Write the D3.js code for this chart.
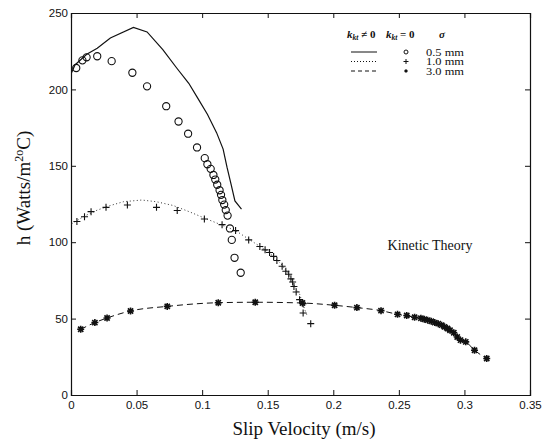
<!DOCTYPE html>
<html>
<head>
<meta charset="utf-8">
<script src="https://cdn.jsdelivr.net/npm/d3@7"></script>
<style>
  body { margin: 0; background: #fff; }
  text { fill: #111; }
</style>
</head>
<body>
<div id="chart"></div>
<script>
// kinetic theory lines (k_kt != 0)
var line05 = [[0.0005,211],[0.003,216],[0.012,223],[0.020,227],[0.030,233.7],[0.0476,240.6],[0.058,237.6],[0.070,226],[0.0806,214],[0.0898,204],[0.0964,194.6],[0.104,183.7],[0.111,171.7],[0.116,160.9],[0.119,148.9],[0.1223,137],[0.125,127],[0.130,121.7]];
var line10 = [[0.0005,112],[0.010,117],[0.020,121],[0.030,124],[0.040,126.5],[0.054,127.6],[0.065,126.5],[0.078,124],[0.090,120],[0.104,115],[0.1255,107.6],[0.140,99.5],[0.150,94],[0.160,86],[0.166,79],[0.170,72],[0.1743,66],[0.178,56.5],[0.180,52]];
var line30 = [[0.0074,43],[0.0182,47.4],[0.0275,50.4],[0.0454,55],[0.0734,58],[0.1123,60.4],[0.1405,60.7],[0.1765,60.2],[0.201,58.7],[0.218,57.2],[0.2364,55.2],[0.249,52.8],[0.262,50.9],[0.272,49],[0.280,46.7],[0.287,43.5],[0.2919,40.7],[0.297,35.9],[0.301,34.8],[0.3077,29.3],[0.317,23.9]];

// k_kt = 0 points
var circles05 = [[0.004,214],[0.0087,219],[0.0119,221],[0.020,221.7],[0.031,218.5],[0.0468,210.9],[0.058,202],[0.0726,189],[0.082,179],[0.0893,171],[0.0961,162],[0.102,155],[0.104,151],[0.1065,148],[0.1086,144],[0.110,141],[0.1115,137.6],[0.1133,134],[0.1144,131],[0.1154,127.6],[0.1168,124.6],[0.118,121],[0.1194,117.4],[0.1212,109],[0.1226,101.5],[0.1247,89.8],[0.1294,80]];
var plus10 = [[0.0045,113.5],[0.0103,116.7],[0.0153,120],[0.0267,122.8],[0.043,124.3],[0.0652,122.8],[0.081,120.7],[0.1017,115.2],[0.1152,111.5],[0.1255,107.6],[0.1355,101.5],[0.144,97.2],[0.148,95],[0.1514,93.3],[0.1545,90.7],[0.157,88],[0.161,84.3],[0.1638,81],[0.166,79],[0.1677,76],[0.169,74],[0.170,71],[0.1717,67.4],[0.1743,62.4],[0.177,59.8],[0.177,53.7],[0.1828,46.7]];
var stars30 = [[0.0074,43],[0.0182,47.4],[0.0275,50.4],[0.0454,55],[0.0734,58],[0.1123,60.4],[0.1405,60.7],[0.1765,60.2],[0.201,58.7],[0.218,57.2],[0.2364,55.2],[0.249,52.8],[0.256,52],[0.262,50.9],[0.2668,50.2],[0.2694,49.6],[0.272,49],[0.2747,48.3],[0.2774,47.4],[0.280,46.7],[0.2826,45.7],[0.2848,44.6],[0.287,43.5],[0.289,42.4],[0.2919,40.7],[0.2945,38],[0.297,35.9],[0.301,34.8],[0.3077,29.3],[0.317,23.9]];

var xTicks = [0, 0.05, 0.1, 0.15, 0.2, 0.25, 0.3, 0.35];
var yTicks = [0, 50, 100, 150, 200, 250];
var sigmaLabels = ["0.5 mm", "1.0 mm", "3.0 mm"];

var svgWidth = 544;
var svgHeight = 442;
var margin = { top: 13, right: 14, bottom: 47, left: 71 };
var width = svgWidth - margin.left - margin.right;
var height = svgHeight - margin.top - margin.bottom;

var svg = d3.select("#chart").append("svg")
    .attr("width", svgWidth)
    .attr("height", svgHeight);

var g = svg.append("g")
    .attr("transform", "translate(" + margin.left + "," + margin.top + ")");

var x = d3.scaleLinear().domain([0, 0.35]).range([0, width]);
var y = d3.scaleLinear().domain([0, 250]).range([height, 0]);

var fmt = function (d) { return d === 0 ? "0" : String(d); };

// axes with inward ticks, box on all sides
g.append("g").attr("transform", "translate(0," + height + ")")
    .call(d3.axisBottom(x).tickValues(xTicks).tickSize(-5).tickPadding(6).tickFormat(fmt));
g.append("g")
    .call(d3.axisLeft(y).tickValues(yTicks).tickSize(-5).tickPadding(3).tickFormat(fmt));
g.append("g")
    .call(d3.axisTop(x).tickValues(xTicks).tickSize(-5).tickFormat(""));
g.append("g").attr("transform", "translate(" + width + ",0)")
    .call(d3.axisRight(y).tickValues(yTicks).tickSize(-5).tickFormat(""));

g.selectAll(".domain").attr("stroke", "#111").attr("stroke-width", 1.2);
g.selectAll(".tick line").attr("stroke", "#111");
g.selectAll(".tick text").attr("font-family", "Liberation Sans, Arial, sans-serif")
    .attr("font-size", 11.5).attr("fill", "#111");

var line = d3.line()
    .x(function (d) { return x(d[0]); })
    .y(function (d) { return y(d[1]); });

g.append("path").datum(line05).attr("d", line)
    .attr("fill", "none").attr("stroke", "#111").attr("stroke-width", 1.2);
g.append("path").datum(line10).attr("d", line)
    .attr("fill", "none").attr("stroke", "#333").attr("stroke-width", 1).attr("stroke-dasharray", "1,2.5");
g.append("path").datum(line30).attr("d", line.curve(d3.curveMonotoneX))
    .attr("fill", "none").attr("stroke", "#111").attr("stroke-width", 1).attr("stroke-dasharray", "6,4");

g.selectAll(".circ").data(circles05).enter().append("circle")
    .attr("cx", function (d) { return x(d[0]); })
    .attr("cy", function (d) { return y(d[1]); })
    .attr("r", 3.6)
    .attr("fill", "none").attr("stroke", "#111").attr("stroke-width", 1.1);

function plusPath(s) {
    return "M" + (-s) + ",0H" + s + "M0," + (-s) + "V" + s;
}
function starPath(s) {
    var k = s * 0.75;
    return plusPath(s) + "M" + (-k) + "," + (-k) + "L" + k + "," + k + "M" + (-k) + "," + k + "L" + k + "," + (-k);
}

g.selectAll(".plus").data(plus10).enter().append("path")
    .attr("transform", function (d) { return "translate(" + x(d[0]) + "," + y(d[1]) + ")"; })
    .attr("d", plusPath(3.5))
    .attr("stroke", "#111").attr("stroke-width", 1.1);

g.selectAll(".star").data(stars30).enter().append("path")
    .attr("transform", function (d) { return "translate(" + x(d[0]) + "," + y(d[1]) + ")"; })
    .attr("d", starPath(3.5))
    .attr("stroke", "#111").attr("stroke-width", 1.6);

// legend
var leg = svg.append("g").attr("font-family", "Liberation Serif, Times New Roman, serif").attr("font-size", 10);
var hdr = leg.append("text").attr("x", 347).attr("y", 38).attr("font-size", 11).attr("font-weight", "bold");
hdr.append("tspan").attr("font-style", "italic").text("k");
hdr.append("tspan").attr("font-style", "italic").attr("font-size", 7.5).attr("dy", 2).text("kt");
hdr.append("tspan").attr("dy", -2).text(" \u2260 0");
var hdr2 = leg.append("text").attr("x", 386).attr("y", 38).attr("font-size", 11).attr("font-weight", "bold");
hdr2.append("tspan").attr("font-style", "italic").text("k");
hdr2.append("tspan").attr("font-style", "italic").attr("font-size", 7.5).attr("dy", 2).text("kt");
hdr2.append("tspan").attr("dy", -2).text(" = 0");
leg.append("text").attr("x", 439).attr("y", 38).attr("font-style", "italic").attr("font-weight", "bold").attr("font-size", 11).text("\u03C3");

var dashes = [null, "1,2", "4,3"];
var rowY = [52, 61.5, 71];
sigmaLabels.forEach(function (lab, i) {
    var yy = rowY[i];
    leg.append("line").attr("x1", 351).attr("x2", 377).attr("y1", yy).attr("y2", yy)
        .attr("stroke", "#111").attr("stroke-width", 1).attr("stroke-dasharray", dashes[i]);
    leg.append("text").attr("x", 426).attr("y", yy + 3.5)
        .attr("textLength", 38).attr("lengthAdjust", "spacingAndGlyphs").text(lab);
});
leg.append("circle").attr("cx", 406).attr("cy", rowY[0]).attr("r", 2).attr("fill", "none").attr("stroke", "#111");
leg.append("path").attr("transform", "translate(406," + rowY[1] + ")").attr("d", plusPath(2.5)).attr("stroke", "#111");
leg.append("path").attr("transform", "translate(406," + rowY[2] + ")").attr("d", starPath(1.6)).attr("stroke", "#111").attr("stroke-width", 1.2);

svg.append("text").attr("x", 430).attr("y", 250).attr("text-anchor", "middle")
    .attr("font-family", "Liberation Serif, Times New Roman, serif").attr("font-size", 14)
    .text("Kinetic Theory");

// axis titles
svg.append("text").attr("x", 304).attr("y", 435).attr("text-anchor", "middle")
    .attr("font-family", "Liberation Serif, Times New Roman, serif").attr("font-size", 19)
    .text("Slip Velocity (m/s)");

var yl = svg.append("text").attr("transform", "translate(30,188) rotate(-90)").attr("text-anchor", "middle")
    .attr("font-family", "Liberation Serif, Times New Roman, serif").attr("font-size", 19);
yl.append("tspan").text("h (Watts/m");
yl.append("tspan").attr("font-size", 12).attr("dy", -7).text("2o");
yl.append("tspan").attr("dy", 7).text("C)");
</script>
</body>
</html>
